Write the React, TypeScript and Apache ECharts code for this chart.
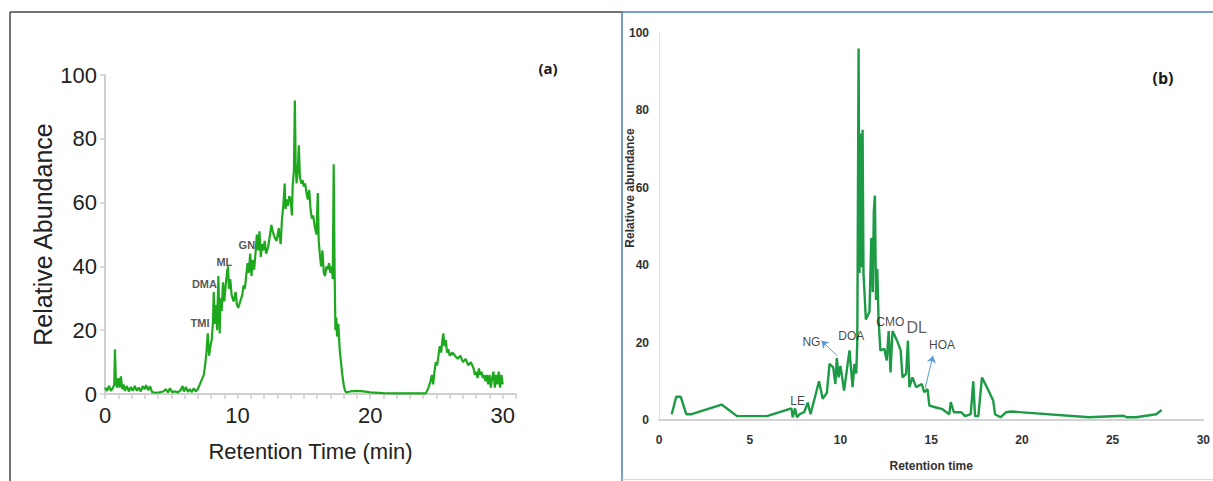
import React, { useEffect, useRef } from "react";
import * as echarts from "echarts";

// Panel (a): retention time (min) and relative abundance
const aTime = [
  0.0, 0.15, 0.3, 0.45, 0.6, 0.7, 0.75, 0.82, 0.9, 1.0, 1.1, 1.2, 1.3, 1.4, 1.5, 1.65, 1.8, 1.95, 2.1, 2.25,
  2.4, 2.55, 2.7, 2.85, 3.0, 3.1, 3.25, 3.4, 3.55, 3.8, 4.1, 4.4, 4.6, 4.75, 4.9, 5.05, 5.3, 5.5, 5.7, 5.85,
  5.95, 6.1, 6.25, 6.4, 6.55, 6.7, 6.85, 7.0, 7.15, 7.3, 7.45, 7.55, 7.65, 7.75, 7.85, 7.95, 8.05, 8.15, 8.2, 8.28,
  8.38, 8.45, 8.55, 8.65, 8.72, 8.8, 8.9, 9.0, 9.1, 9.2, 9.28, 9.35, 9.45, 9.55, 9.7, 9.85, 9.95, 10.05, 10.2, 10.35,
  10.45, 10.55, 10.65, 10.75, 10.85, 10.95, 11.05, 11.15, 11.25, 11.35, 11.45, 11.55, 11.65, 11.75, 11.85, 11.95, 12.05, 12.15, 12.3, 12.45,
  12.55, 12.65, 12.8, 12.95, 13.1, 13.25, 13.35, 13.45, 13.55, 13.62, 13.7, 13.8, 13.9, 14.0, 14.1, 14.15, 14.25, 14.32, 14.38, 14.45,
  14.55, 14.62, 14.7, 14.8, 14.9, 15.0, 15.1, 15.2, 15.3, 15.4, 15.5, 15.6, 15.7, 15.8, 15.95, 16.05, 16.12, 16.2, 16.3, 16.4,
  16.5, 16.6, 16.7, 16.8, 16.9, 17.0, 17.1, 17.18, 17.25, 17.32, 17.38, 17.45, 17.5, 17.6, 17.7, 17.8, 17.9, 18.0, 18.1, 18.2,
  18.5, 19.0, 19.5, 20.0, 21.0, 22.0, 23.0, 24.2, 24.4, 24.55, 24.65, 24.75, 24.85, 24.95, 25.05, 25.15, 25.25, 25.35, 25.45, 25.52,
  25.6, 25.7, 25.8, 25.9, 26.0, 26.2, 26.4, 26.6, 26.8, 27.0, 27.2, 27.4, 27.6, 27.8, 27.9, 28.0, 28.1, 28.2, 28.3, 28.4,
  28.5, 28.6, 28.7, 28.8, 28.9, 29.0, 29.1, 29.2, 29.3, 29.4, 29.5, 29.6, 29.7, 29.8, 29.9, 30.0,
];
const aAbundance = [
  2, 1, 2.5, 1, 2, 3, 14, 4, 2, 5, 2, 5.5, 1.5, 3, 1, 2.5, 0.8, 2.2, 1, 2.5,
  1, 2, 0.8, 2.5, 1.5, 2.8, 1.2, 2.4, 0.6, 0.4, 0.5, 0.8, 1.5, 0.5, 1.8, 0.6, 0.8, 0.5, 1.2, 2.5,
  0.8, 2.2, 0.7, 1.5, 0.6, 1.8, 0.8, 1.5, 3, 4.5, 6, 9, 13, 19, 12, 15, 17, 23, 32, 22,
  28, 20, 37, 19, 30, 26, 35, 29, 34, 38, 40, 33, 36, 31, 29, 32, 28, 27, 29, 31,
  34, 33, 37, 41, 38, 44, 37, 42, 39, 44, 50, 45, 51, 43, 47, 45, 48, 44, 46, 50,
  53, 51, 49, 48, 52, 47, 55, 59, 66, 58, 61, 59, 62, 61, 56, 65, 70, 92, 72, 66,
  71, 78, 68, 66, 67, 65, 66, 63, 61, 64, 58, 55, 56, 53, 50, 63, 48, 44, 40, 45,
  38, 37, 40, 39, 41, 38, 40, 36, 72, 38, 20, 24, 18, 22, 14, 10, 6, 3, 1, 0.5,
  0.8, 1, 0.8, 0.5, 0.3, 0.2, 0.2, 0.2, 2, 4, 6, 3, 7, 10, 9, 12, 15, 13, 17, 19,
  15, 17, 13, 14, 12, 13, 12, 11, 12, 10, 11, 9, 10, 8, 6, 7, 5, 8, 6, 7,
  5, 6, 4, 6, 3, 6, 2, 5, 7, 2, 6, 3, 7, 2, 6, 3,
];
const aPeakNames = ["TMI", "DMA", "ML", "GN"];
const aPeakTime = [7.17, 7.5, 9.0, 10.7];
const aPeakLevel = [22.3, 34.5, 41.5, 46.7];

// Panel (b)
const bTime = [
  0.7, 0.95, 1.2, 1.5, 1.8, 3.45, 4.3, 5.95, 7.3, 7.37, 7.5, 7.6, 7.75, 8.0, 8.2, 8.35, 8.6, 8.82, 9.02, 9.25,
  9.4, 9.6, 9.72, 9.8, 9.9, 10.0, 10.2, 10.35, 10.5, 10.67, 10.77, 10.87, 10.93, 11.0, 11.05, 11.12, 11.17, 11.22, 11.27, 11.4,
  11.6, 11.7, 11.78, 11.84, 11.9, 11.96, 12.03, 12.1, 12.2, 12.42, 12.55, 12.66, 12.76, 12.87, 13.12, 13.32, 13.42, 13.62, 13.72, 13.8,
  13.97, 14.17, 14.48, 14.62, 14.8, 14.9, 15.22, 15.62, 16.0, 16.08, 16.25, 16.66, 16.87, 17.18, 17.32, 17.42, 17.6, 17.8, 18.12, 18.42,
  18.52, 18.82, 19.12, 19.42, 23.7, 25.6, 25.8, 26.3, 27.4, 27.7,
];
const bAbundance = [
  1.5, 6, 6, 1.5, 1.5, 4, 1, 1, 3, 0.7, 3, 0.7, 1.5, 2, 4.5, 1.5, 6, 10, 5.5, 7,
  14.5, 13.6, 9.3, 16, 11, 14, 7.6, 12.8, 18, 8.5, 14.5, 12, 20.5, 96, 38, 74, 39.5, 75, 38, 26,
  28, 47, 33, 54, 58, 31, 39, 26, 18, 18.4, 15.4, 23, 12.3, 23, 20.5, 18, 11, 12, 20.5, 8.5,
  11, 8.5, 9.3, 7.2, 8, 3.7, 3.3, 2.8, 1.5, 4.6, 2, 2, 1, 1.5, 10, 1, 1, 11, 8, 5,
  1.5, 0.7, 2, 2.2, 0.7, 1.1, 0.7, 0.7, 1.5, 2.6,
];
const bPeakNames = ["LE", "NG", "DOA", "CMO", "DL", "HOA"];
const bPeakTime = [7.64, 8.4, 10.6, 12.75, 14.2, 15.6];
const bPeakLevel = [4.9, 20.2, 21.7, 25.3, 24.0, 19.4];
const bArrowFrom = [[9.84, 16.5], [14.67, 8.3]];
const bArrowTo = [[8.95, 20.5], [15.1, 16.6]];

const xTicksA = [0, 10, 20, 30];

export default function App() {
  const ref = useRef<HTMLDivElement>(null);
  useEffect(() => {
    document.body.style.margin = "0";
    const chart = echarts.init(ref.current!, null, { renderer: "svg" });
    const aData = aTime.map((t, i) => [t, aAbundance[i]]);
    const bData = bTime.map((t, i) => [t, bAbundance[i]]);
    const aPeaks = aPeakNames.map((n, i) => [aPeakTime[i], aPeakLevel[i], n]);
    const bPeaks = bPeakNames.map((n, i) => {
      const item: any = { value: [bPeakTime[i], bPeakLevel[i], n] };
      if (n === "DL") item.label = { fontSize: 16, fontWeight: "normal", color: "#333" };
      return item;
    });
    const sansA = "'Liberation Sans', Arial, sans-serif";
    const sansB = "'Liberation Sans Narrow', 'Liberation Sans', Arial, sans-serif";
    const option: any = {
      animation: false,
      backgroundColor: "#ffffff",
      grid: [
        { left: 105, top: 75, width: 411, height: 319 },
        { left: 659, top: 33, width: 546, height: 387 },
      ],
      xAxis: [
        {
          gridIndex: 0,
          type: "value",
          min: 0,
          max: 31,
          interval: 1,
          name: "Retention Time (min)",
          nameLocation: "middle",
          nameGap: 46,
          nameTextStyle: { fontFamily: sansA, fontSize: 22, color: "#222" },
          axisLine: { show: true, lineStyle: { color: "#cfcfcf", width: 2 } },
          axisTick: { show: true, length: 5, lineStyle: { color: "#cfcfcf", width: 1.5 } },
          axisLabel: {
            margin: 10,
            fontFamily: sansA,
            fontSize: 22,
            color: "#222",
            formatter: (v: number) => (xTicksA.includes(v) ? String(v) : ""),
          },
          splitLine: { show: false },
        },
        {
          gridIndex: 1,
          type: "value",
          min: 0,
          max: 30,
          interval: 5,
          name: "Retention time",
          nameLocation: "middle",
          nameGap: 40,
          nameTextStyle: { fontFamily: sansB, fontSize: 12, color: "#333", fontWeight: "bold" },
          axisLine: { show: true, lineStyle: { color: "#c4c4c4", width: 1.5 } },
          axisTick: { show: false },
          axisLabel: { margin: 14, fontFamily: sansB, fontSize: 12, color: "#333", fontWeight: "bold" },
          splitLine: { show: false },
        },
      ],
      yAxis: [
        {
          gridIndex: 0,
          type: "value",
          min: 0,
          max: 100,
          interval: 20,
          name: "Relative Abundance",
          nameLocation: "middle",
          nameGap: 50,
          nameRotate: 90,
          nameTextStyle: { fontFamily: sansA, fontSize: 25, color: "#222" },
          axisLine: { show: true, lineStyle: { color: "#cfcfcf", width: 2 } },
          axisTick: { show: true, length: 5, lineStyle: { color: "#cfcfcf", width: 1.5 } },
          axisLabel: { margin: 8, fontFamily: sansA, fontSize: 22, color: "#222" },
          splitLine: { show: false },
        },
        {
          gridIndex: 1,
          type: "value",
          min: 0,
          max: 100,
          interval: 20,
          axisLine: { show: true, lineStyle: { color: "#e0e0e0", width: 1 } },
          axisTick: { show: false },
          axisLabel: { margin: 10, fontFamily: sansB, fontSize: 12, color: "#333", fontWeight: "bold" },
          splitLine: { show: false },
        },
      ],
      series: [
        {
          type: "line",
          xAxisIndex: 0,
          yAxisIndex: 0,
          data: aData,
          showSymbol: false,
          symbol: "none",
          lineStyle: { color: "#1ea81e", width: 2.2 },
          z: 3,
        },
        {
          type: "scatter",
          xAxisIndex: 0,
          yAxisIndex: 0,
          data: aPeaks,
          symbolSize: 0,
          silent: true,
          label: {
            show: true,
            position: "inside",
            formatter: (p: any) => p.data[2],
            fontFamily: sansA,
            fontSize: 11,
            fontWeight: "bold",
            color: "#2a2a2a",
          },
          z: 4,
        },
        {
          type: "line",
          xAxisIndex: 1,
          yAxisIndex: 1,
          data: bData,
          showSymbol: false,
          symbol: "none",
          lineStyle: { color: "#1c9a45", width: 2.4 },
          z: 3,
          markLine: {
            silent: true,
            symbol: ["none", "arrow"],
            symbolSize: 7,
            label: { show: false },
            lineStyle: { color: "#5b9bd5", width: 1, type: "solid" },
            data: bArrowFrom.map((f, i) => [{ coord: f }, { coord: bArrowTo[i] }]),
          },
        },
        {
          type: "scatter",
          xAxisIndex: 1,
          yAxisIndex: 1,
          data: bPeaks,
          symbolSize: 0,
          silent: true,
          label: {
            show: true,
            position: "inside",
            formatter: (p: any) => p.value[2],
            fontFamily: sansB,
            fontSize: 12,
            color: "#111",
          },
          z: 4,
        },
      ],
      graphic: [
        { type: "line", shape: { x1: 10, y1: 12, x2: 622, y2: 12 }, style: { stroke: "#444", lineWidth: 1.5 } },
        { type: "line", shape: { x1: 10, y1: 12, x2: 10, y2: 481 }, style: { stroke: "#444", lineWidth: 1.5 } },
        { type: "line", shape: { x1: 622, y1: 12, x2: 1213, y2: 12 }, style: { stroke: "#4a7ebb", lineWidth: 1.5 } },
        { type: "line", shape: { x1: 622, y1: 12, x2: 622, y2: 481 }, style: { stroke: "#4a7ebb", lineWidth: 1.5 } },
        { type: "line", shape: { x1: 622, y1: 479.5, x2: 1213, y2: 479.5 }, style: { stroke: "#d8d8d8", lineWidth: 1 } },
        {
          type: "text",
          x: 548,
          y: 68,
          style: { text: "(a)", fontFamily: "'Open Sans', sans-serif", fontWeight: "bold", fontSize: 15, fill: "#1a1a1a", align: "center", verticalAlign: "middle" },
        },
        {
          type: "text",
          x: 1163,
          y: 78,
          style: { text: "(b)", fontFamily: "'Open Sans', sans-serif", fontWeight: "bold", fontSize: 16, fill: "#1a1a1a", align: "center", verticalAlign: "middle" },
        },
        {
          type: "text",
          x: 630,
          y: 188,
          rotation: Math.PI / 2,
          style: { text: "Relativve abundance", fontFamily: sansB, fontWeight: "bold", fontSize: 12, fill: "#333", align: "center", verticalAlign: "middle" },
        },
      ],
    };
    chart.setOption(option);
    return () => chart.dispose();
  }, []);
  return <div ref={ref} style={{ width: 1213, height: 481 }} />;
}
